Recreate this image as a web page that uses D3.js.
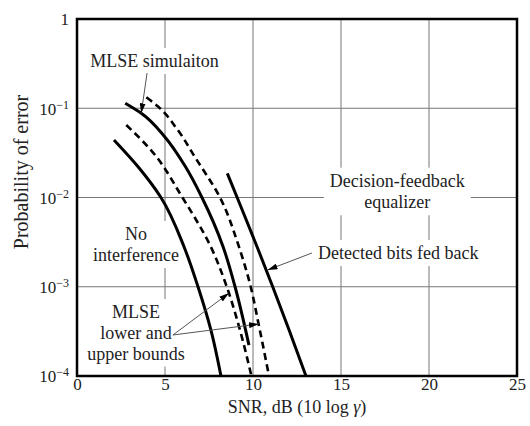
<!DOCTYPE html>
<html>
<head>
<meta charset="utf-8">
<script src="https://cdn.jsdelivr.net/npm/d3@7"></script>
<style>
  html, body { margin: 0; padding: 0; background: #fff; }
  svg { display: block; }
  text { font-family: "Liberation Serif", "Times New Roman", serif; fill: #222; }
</style>
</head>
<body>
<svg id="chart" width="530" height="426"></svg>
<script>
// SNR (dB) / probability-of-error pairs for each curve
const noInterference = [[2.10, 0.0441], [3.47, 0.0221], [4.77, 0.01], [6.08, 0.00281], [6.875, 0.001], [7.61, 3.27e-4], [8.18, 1e-4]];
const mlseLowerBound = [[2.80, 0.0649], [4.20, 0.034], [5.99, 0.01], [7.60, 0.00281], [8.51, 0.001], [9.26, 3.27e-4], [9.91, 1e-4]];
const mlseSimulation = [[2.74, 0.1136], [3.65, 0.0878], [4.98, 0.048], [6.14, 0.0225], [7.10, 0.01], [8.30, 0.00281], [8.98, 0.001], [9.77, 2.22e-4]];
const mlseUpperBound = [[3.94, 0.1327], [4.62, 0.104], [5.70, 0.058], [6.69, 0.0286], [8.125, 0.01], [9.20, 0.00281], [9.87, 0.001], [10.32, 3.8e-4], [10.91, 1e-4]];
const dfeFedBack     = [[8.54, 0.01866], [9.10, 0.01], [10.23, 0.00281], [11.12, 0.001], [12.05, 3.27e-4], [13.01, 1e-4]];

const xTicks = [0, 5, 10, 15, 20, 25];
const yTicks = [1e-4, 1e-3, 1e-2, 1e-1, 1];
const yTickLabels = [["10", "\u22124"], ["10", "\u22123"], ["10", "\u22122"], ["10", "\u22121"], ["1", ""]];

const svg = d3.select("#chart");
const margin = { left: 77, right: 13, top: 19, bottom: 50 };
const W = 530, H = 426;
const SERIF = "Liberation Serif, Times New Roman, serif";

const x = d3.scaleLinear().domain([0, 25]).range([margin.left, W - margin.right]);
const y = d3.scaleLog().domain([1e-4, 1]).range([H - margin.bottom, margin.top]);

// grid
const grid = svg.append("g").attr("stroke", "#777").attr("stroke-width", 1);
xTicks.slice(1, -1).forEach(v => {
  grid.append("line").attr("x1", x(v)).attr("x2", x(v)).attr("y1", y(1)).attr("y2", y(1e-4));
});
yTicks.slice(1, -1).forEach(v => {
  grid.append("line").attr("x1", x(0)).attr("x2", x(25)).attr("y1", y(v)).attr("y2", y(v));
});

// axes
const xAxis = svg.append("g")
  .attr("transform", `translate(0,${y(1e-4)})`)
  .call(d3.axisBottom(x).tickValues(xTicks).tickSize(0).tickPadding(2).tickFormat(d3.format("d")));
xAxis.select(".domain").remove();
xAxis.attr("font-family", SERIF);
xAxis.selectAll("text").attr("font-size", 17).attr("fill", "#222");

const yAxis = svg.append("g")
  .attr("transform", `translate(${x(0)},0)`)
  .call(d3.axisLeft(y).tickValues(yTicks).tickSize(0).tickPadding(8).tickFormat(() => ""));
yAxis.select(".domain").remove();
yAxis.attr("font-family", SERIF);
yAxis.selectAll(".tick text").each(function(d) {
  const t = d3.select(this).attr("font-size", 17).attr("fill", "#222").attr("dy", "0.35em");
  const lab = yTickLabels[yTicks.indexOf(d)];
  t.append("tspan").text(lab[0]);
  if (lab[1]) t.append("tspan").attr("dy", "-0.5em").attr("font-size", 12).text(lab[1]);
});

svg.append("text").attr("x", (x(0) + x(25)) / 2).attr("y", 413)
  .attr("text-anchor", "middle").attr("font-size", 18).attr("font-family", SERIF)
  .html("SNR, dB (10 log <tspan font-style='italic'>\u03b3</tspan>)");
svg.append("text")
  .attr("transform", `translate(28,172) rotate(-90)`)
  .attr("text-anchor", "middle").attr("font-size", 20).attr("font-family", SERIF)
  .text("Probability of error");

// annotation blocks with white backing
function label(lines, cx, baseline, lineGap) {
  const g = svg.append("g");
  const rect = g.append("rect").attr("fill", "#fff");
  const t = g.append("text").attr("font-size", 18).attr("font-family", SERIF).attr("text-anchor", "middle");
  lines.forEach((s, i) => t.append("tspan").attr("x", cx).attr("y", baseline + i * lineGap).text(s));
  const b = t.node().getBBox();
  rect.attr("x", b.x - 6).attr("y", b.y - 3).attr("width", b.width + 12).attr("height", b.height + 6);
}
label(["MLSE simulaiton"], x(4.4), y(0.29), 21);
label(["Decision-feedback", "equalizer"], x(18.2), y(0.0132), 21.5);
label(["No", "interference"], x(3.35), y(0.00334), 21);
label(["Detected bits fed back"], x(18.25), y(0.00205), 21);
label(["MLSE", "lower and", "upper bounds"], x(3.35), y(4.47e-4), 20.8);

// curves
const line = d3.line().x(d => x(d[0])).y(d => y(d[1])).curve(d3.curveMonotoneY);
const curves = [
  { data: noInterference, dash: null },
  { data: mlseLowerBound, dash: "7,4.5" },
  { data: mlseSimulation, dash: null },
  { data: mlseUpperBound, dash: "7,4.5" },
  { data: dfeFedBack, dash: null }
];
curves.forEach(c => {
  svg.append("path").attr("d", line(c.data)).attr("fill", "none")
    .attr("stroke", "#000").attr("stroke-width", c.dash ? 2.6 : 3)
    .attr("stroke-dasharray", c.dash);
});

// arrows
svg.append("defs").append("marker")
  .attr("id", "head").attr("viewBox", "0 0 10 6").attr("refX", 10).attr("refY", 3)
  .attr("markerWidth", 10).attr("markerHeight", 6).attr("markerUnits", "userSpaceOnUse")
  .attr("orient", "auto")
  .append("path").attr("d", "M0,0 L10,3 L0,6 Z").attr("fill", "#000");

const arrows = [
  [[3.98, 0.248], [3.65, 0.0878]],
  [[13.35, 0.00239], [10.83, 0.00154]],
  [[5.45, 2.88e-4], [8.64, 8.5e-4]],
  [[5.45, 2.88e-4], [10.34, 3.83e-4]]
];
arrows.forEach(([a, b]) => {
  svg.append("line")
    .attr("x1", x(a[0])).attr("y1", y(a[1])).attr("x2", x(b[0])).attr("y2", y(b[1]))
    .attr("stroke", "#555").attr("stroke-width", 1).attr("marker-end", "url(#head)");
});

// frame
svg.append("rect").attr("x", x(0)).attr("y", y(1)).attr("width", x(25) - x(0)).attr("height", y(1e-4) - y(1))
  .attr("fill", "none").attr("stroke", "#000").attr("stroke-width", 2.5);
</script>
</body>
</html>
